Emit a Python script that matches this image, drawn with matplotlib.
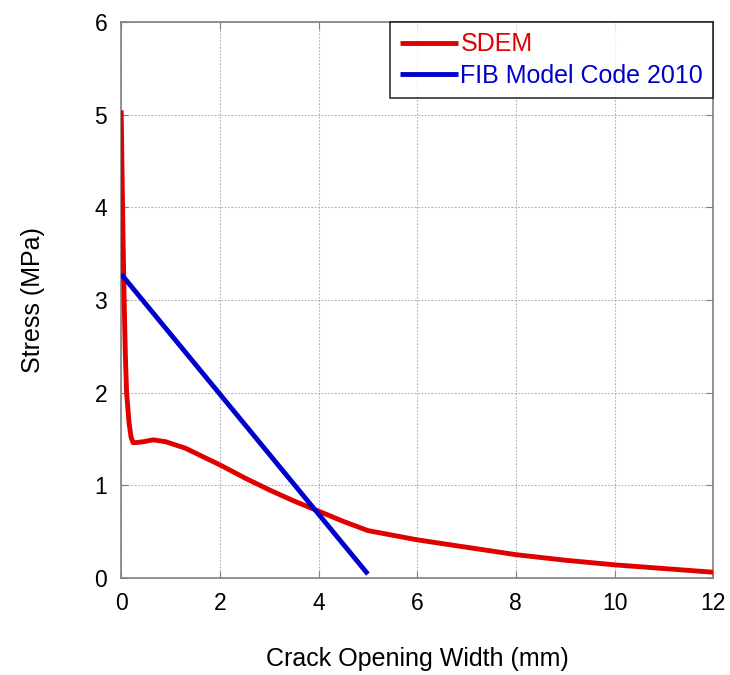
import matplotlib
matplotlib.use("Agg")
import matplotlib.pyplot as plt

plt.rcParams['font.family'] = ['Liberation Sans', 'DejaVu Sans']

# SDEM curve
sdem_x = [0.0, 0.02, 0.04, 0.06, 0.085, 0.11, 0.16, 0.20, 0.24, 0.30, 0.45, 0.65,
          0.9, 1.3, 2.0, 2.5, 3.0, 3.5, 4.0, 4.5, 5.0, 5.5, 6.0, 7.0, 8.0, 9.0, 10.0, 11.0, 12.0]
sdem_y = [5.05, 4.3, 3.6, 3.0, 2.4, 2.0, 1.67, 1.52, 1.46, 1.46, 1.47, 1.49,
          1.47, 1.40, 1.22, 1.08, 0.95, 0.83, 0.72, 0.61, 0.51, 0.46, 0.41, 0.33, 0.25, 0.19, 0.14, 0.10, 0.06]

# FIB Model Code 2010
fib_x = [0.0, 5.0]
fib_y = [3.28, 0.04]

x_ticks = [0, 2, 4, 6, 8, 10, 12]
y_ticks = [0, 1, 2, 3, 4, 5, 6]

fig = plt.figure(figsize=(7.3, 6.75), dpi=100)
ax = fig.add_axes([0.166, 0.144, 0.811, 0.823])

ax.plot(sdem_x, sdem_y, color='#e00000', lw=3.5, label='SDEM', solid_capstyle='butt', zorder=3)
ax.plot(fib_x, fib_y, color='#0000cc', lw=3.5, label='FIB Model Code 2010', solid_capstyle='butt', zorder=3)

ax.set_xlim(0, 12)
ax.set_ylim(0, 6)
ax.set_xticks(x_ticks)
ax.set_yticks(y_ticks)
ax.grid(True, color='#b0b0b0', linestyle=(0, (1.5, 1.5)), lw=0.8)
for s in ax.spines.values():
    s.set_color('#808080')
    s.set_linewidth(1.2)
ax.tick_params(direction='in', top=True, right=True, color='#808080', length=5,
               labelsize=16.5, pad=10)

ax.set_xlabel('Crack Opening Width (mm)', fontsize=18, labelpad=23)
ax.set_ylabel('Stress (MPa)', fontsize=18, labelpad=36)

leg = ax.legend(loc='upper right', fontsize=18, frameon=True, fancybox=False,
                edgecolor='black', borderaxespad=0, handlelength=2.3,
                handletextpad=0.1, borderpad=0.4, labelspacing=0.3,
                markerfirst=True)
leg.get_frame().set_linewidth(1.2)
for t, l in zip(leg.get_texts(), leg.get_lines()):
    t.set_color(l.get_color())

fig.savefig('out.png', dpi=100, facecolor='white')
